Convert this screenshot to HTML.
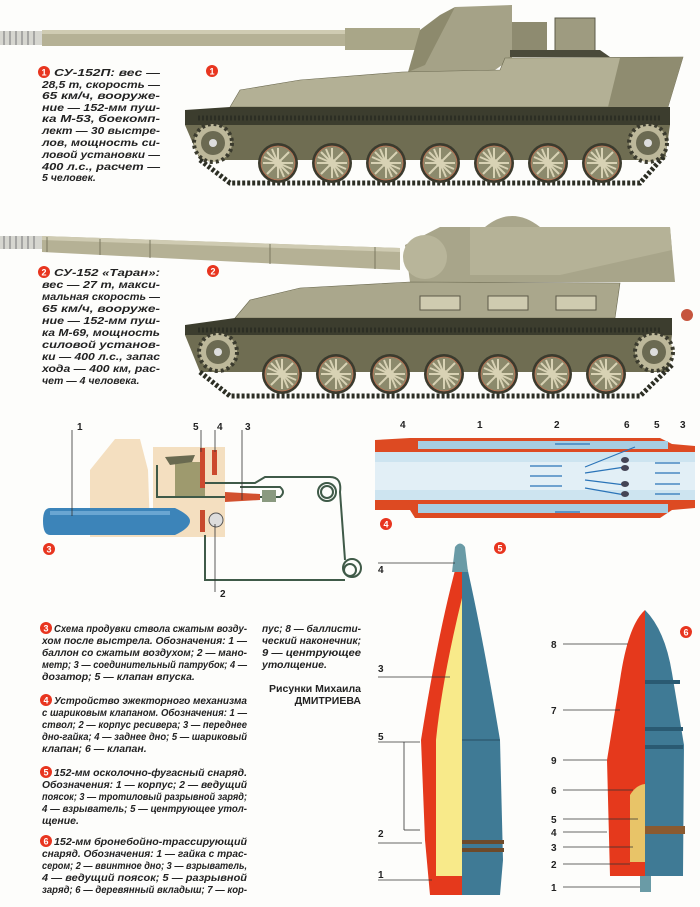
<!DOCTYPE html>
<html><head><meta charset="utf-8"><style>
html,body{margin:0;padding:0;background:#fff;}
svg{display:block}
.t{font-family:"Liberation Sans","Noto Sans CJK SC",sans-serif;font-weight:bold;font-style:italic;font-size:10.5px;fill:#222;}
.n{font-family:"Liberation Sans",sans-serif;font-weight:bold;font-size:10px;fill:#222;}
.b{fill:#e8351f}
.bt{font-family:"Liberation Sans",sans-serif;font-weight:bold;font-size:9px;fill:#fff;}
</style></head><body>
<svg width="700" height="907" viewBox="0 0 700 907" xmlns="http://www.w3.org/2000/svg">
<rect width="700" height="907" fill="#fdfdfb"/>
<defs>
<g id="wheel">
<circle r="20" fill="#3b3b2e"/><circle r="17" fill="#8c8a6c"/>
<g stroke="#d8d2b4" stroke-width="2">
<line x1="0" y1="-15" x2="0" y2="15"/><line x1="-15" y1="0" x2="15" y2="0"/>
<line x1="-11" y1="-11" x2="11" y2="11"/><line x1="-11" y1="11" x2="11" y2="-11"/>
<line x1="-6" y1="-14" x2="6" y2="14"/><line x1="-14" y1="-6" x2="14" y2="6"/>
</g><circle r="4" fill="#d8d2b4"/><circle r="17" fill="none" stroke="#c07050" stroke-width="0.8"/>
</g>
<g id="spr"><circle r="19" fill="#bdb89a" stroke="#3b3b2e" stroke-width="4" stroke-dasharray="3 3"/><circle r="12" fill="#6b6a52"/><circle r="4" fill="#ddd"/></g>
</defs>

<!-- TANK 1 -->
<rect x="0" y="31" width="42" height="14" fill="#d6d6d0"/>
<g stroke="#777" stroke-width="1"><line x1="4" y1="31" x2="4" y2="45"/><line x1="10" y1="31" x2="10" y2="45"/><line x1="16" y1="31" x2="16" y2="45"/><line x1="22" y1="31" x2="22" y2="45"/><line x1="28" y1="31" x2="28" y2="45"/><line x1="34" y1="31" x2="34" y2="45"/></g>
<rect x="42" y="30" width="305" height="16" fill="#b5b195"/>
<rect x="42" y="30" width="305" height="4" fill="#cfcbb2"/>
<rect x="345" y="28" width="75" height="22" fill="#a9a688"/>
<path d="M418,62 L455,7 L512,5 L512,58 L495,70 L408,72 Z" fill="#a5a287"/>
<path d="M408,72 L420,30 L440,15 L455,7 L425,65 Z" fill="#8d8a6d"/>
<rect x="512" y="22" width="35" height="30" fill="#8e8b70"/>
<rect x="555" y="18" width="40" height="35" fill="#9e9b80" stroke="#5c5a48"/>
<path d="M510,50 L600,50 L610,57 L510,57Z" fill="#4a4a3a"/>
<path d="M230,107 L240,90 L300,80 L402,72 L500,70 L505,58 L683,57 L668,107 Z" fill="#b3b095" stroke="#6a684f" stroke-width="0.6"/>
<path d="M620,58 L683,57 L668,107 L608,107 Z" fill="#8f8c70"/>
<path d="M185,110 L230,107 L670,107 L670,125 L185,125 Z" fill="#3c3d2e"/>
<path d="M185,125 L670,125 L665,160 L200,160 Z" fill="#6f6d52"/>
<path d="M198,118 L660,118" stroke="#2c2e24" stroke-width="5" stroke-dasharray="2 2"/>
<path d="M200,160 L230,183 L640,183 L665,155" stroke="#2c2e24" stroke-width="5" fill="none" stroke-dasharray="3 2"/>
<use href="#spr" x="213" y="143"/><use href="#spr" x="648" y="143"/>
<use href="#wheel" x="278" y="163"/><use href="#wheel" x="332" y="163"/><use href="#wheel" x="386" y="163"/><use href="#wheel" x="440" y="163"/><use href="#wheel" x="494" y="163"/><use href="#wheel" x="548" y="163"/><use href="#wheel" x="602" y="163"/>
<circle cx="212" cy="71" r="6" class="b"/><text x="212" y="74.5" text-anchor="middle" class="bt">1</text>

<!-- TANK 2 -->
<rect x="0" y="236" width="42" height="13" fill="#d6d6d0"/>
<g stroke="#777" stroke-width="1"><line x1="4" y1="236" x2="4" y2="249"/><line x1="10" y1="236" x2="10" y2="249"/><line x1="16" y1="236" x2="16" y2="249"/><line x1="22" y1="236" x2="22" y2="249"/><line x1="28" y1="236" x2="28" y2="249"/><line x1="34" y1="236" x2="34" y2="249"/></g>
<path d="M42,236 L400,248 L400,270 L42,252 Z" fill="#b5b195"/>
<path d="M42,236 L400,248 L400,252 L42,240 Z" fill="#cfcbb2"/>
<g stroke="#7a7860" stroke-width="1"><line x1="47" y1="237" x2="47" y2="252"/><line x1="100" y1="239" x2="100" y2="255"/><line x1="150" y1="240" x2="150" y2="258"/><line x1="270" y1="244" x2="270" y2="264"/><line x1="375" y1="247" x2="375" y2="269"/></g>
<path d="M405,245 L440,227 L670,227 L675,282 L410,282 Z" fill="#a8a58a"/>
<path d="M470,227 L670,227 L672,250 L560,275 L470,275Z" fill="#b5b297"/>
<circle cx="425" cy="257" r="22" fill="#b8b59a"/>
<path d="M485,227 Q512,205 540,227 Z" fill="#a9a68b"/>
<path d="M235,318 L250,300 L300,288 L410,282 L620,283 L615,318 Z" fill="#aaa78c" stroke="#6a684f" stroke-width="0.6"/>
<g fill="#cfcbb0" stroke="#5c5a48"><rect x="420" y="296" width="40" height="14"/><rect x="488" y="296" width="40" height="14"/><rect x="556" y="296" width="40" height="14"/></g>
<path d="M185,325 L235,318 L672,318 L672,335 L185,335 Z" fill="#3c3d2e"/>
<path d="M185,335 L672,335 L668,372 L200,372 Z" fill="#6f6d52"/>
<path d="M198,330 L660,330" stroke="#2c2e24" stroke-width="5" stroke-dasharray="2 2"/>
<path d="M200,372 L230,396 L640,396 L672,365" stroke="#2c2e24" stroke-width="5" fill="none" stroke-dasharray="3 2"/>
<circle cx="687" cy="315" r="6" fill="#c6553e"/>
<use href="#spr" x="218" y="352"/><use href="#spr" x="654" y="352"/>
<use href="#wheel" x="282" y="374"/><use href="#wheel" x="336" y="374"/><use href="#wheel" x="390" y="374"/><use href="#wheel" x="444" y="374"/><use href="#wheel" x="498" y="374"/><use href="#wheel" x="552" y="374"/><use href="#wheel" x="606" y="374"/>
<circle cx="213" cy="271" r="6" class="b"/><text x="213" y="274.5" text-anchor="middle" class="bt">2</text>

<!-- captions 1,2 -->
<circle cx="44" cy="72" r="6" class="b"/><text x="44" y="75.5" text-anchor="middle" class="bt">1</text>
<g class="t">
<text x="54" y="76" textLength="106" lengthAdjust="spacingAndGlyphs">СУ-152П: вес —</text>
<text x="42" y="88" textLength="118" lengthAdjust="spacingAndGlyphs">28,5 т, скорость —</text>
<text x="42" y="99" textLength="118" lengthAdjust="spacingAndGlyphs">65 км/ч, вооруже-</text>
<text x="42" y="111" textLength="118" lengthAdjust="spacingAndGlyphs">ние — 152-мм пуш-</text>
<text x="42" y="122" textLength="118" lengthAdjust="spacingAndGlyphs">ка М-53, боекомп-</text>
<text x="42" y="134" textLength="118" lengthAdjust="spacingAndGlyphs">лект — 30 выстре-</text>
<text x="42" y="146" textLength="118" lengthAdjust="spacingAndGlyphs">лов, мощность си-</text>
<text x="42" y="158" textLength="118" lengthAdjust="spacingAndGlyphs">ловой установки —</text>
<text x="42" y="170" textLength="118" lengthAdjust="spacingAndGlyphs">400 л.с., расчет —</text>
<text x="42" y="181">5 человек.</text>
</g>
<circle cx="44" cy="272" r="6" class="b"/><text x="44" y="275.5" text-anchor="middle" class="bt">2</text>
<g class="t">
<text x="54" y="276" textLength="106" lengthAdjust="spacingAndGlyphs">СУ-152 «Таран»:</text>
<text x="42" y="288" textLength="118" lengthAdjust="spacingAndGlyphs">вес — 27 т, макси-</text>
<text x="42" y="300" textLength="118" lengthAdjust="spacingAndGlyphs">мальная скорость —</text>
<text x="42" y="312" textLength="118" lengthAdjust="spacingAndGlyphs">65 км/ч, вооруже-</text>
<text x="42" y="324" textLength="118" lengthAdjust="spacingAndGlyphs">ние — 152-мм пуш-</text>
<text x="42" y="336" textLength="118" lengthAdjust="spacingAndGlyphs">ка М-69, мощность</text>
<text x="42" y="348" textLength="118" lengthAdjust="spacingAndGlyphs">силовой установ-</text>
<text x="42" y="360" textLength="118" lengthAdjust="spacingAndGlyphs">ки — 400 л.с., запас</text>
<text x="42" y="372" textLength="118" lengthAdjust="spacingAndGlyphs">хода — 400 км, рас-</text>
<text x="42" y="384">чет — 4 человека.</text>
</g>

<!-- DIAGRAM 3 -->
<path d="M90,470 L115,439 L140,439 L148,470 L150,530 L225,530 L225,537 L90,537 Z" fill="#f4dfc0"/>
<rect x="153" y="447" width="72" height="90" fill="#f4dfc0"/>
<rect x="175" y="462" width="30" height="35" fill="#9e9a6e"/>
<path d="M165,457 L195,455 L192,462 L170,465Z" fill="#6a6a50"/>
<g fill="none" stroke="#3f5a48" stroke-width="2">
<path d="M157,465 L157,497 L225,497"/>
<path d="M203,485 L203,483 L255,483 L265,477 L330,477 Q342,477 340,492 L345,560"/>
<path d="M225,497 L280,497 Q286,492 280,487 L240,487"/>
<path d="M205,535 L205,580 L345,580"/>
<circle cx="327" cy="492" r="9"/><circle cx="327" cy="492" r="6"/>
<circle cx="352" cy="568" r="9"/><circle cx="350" cy="570" r="6"/>
</g>
<rect x="200" y="448" width="5" height="40" fill="#cc4a2e"/>
<rect x="212" y="450" width="5" height="25" fill="#cc4a2e"/>
<path d="M225,492 L260,494 L260,500 L225,502Z" fill="#d2512f"/>
<rect x="262" y="490" width="14" height="12" fill="#8a9a80"/>
<path d="M50,508 L175,508 Q190,515 190,521 Q190,528 175,535 L50,535 Q43,535 43,521 Q43,508 50,508Z" fill="#3c84b9"/>
<rect x="50" y="511" width="120" height="4" fill="#6aa6d2"/>
<rect x="200" y="510" width="5" height="22" fill="#c84a2e"/>
<circle cx="216" cy="520" r="7" fill="#ddd" stroke="#555"/>
<g stroke="#333" stroke-width="0.8"><line x1="72" y1="430" x2="72" y2="516"/><line x1="201" y1="430" x2="201" y2="452"/><line x1="215" y1="430" x2="215" y2="452"/><line x1="242" y1="430" x2="242" y2="500"/><line x1="215" y1="524" x2="215" y2="592"/></g>
<text x="77" y="430" class="n">1</text><text x="193" y="430" class="n">5</text><text x="217" y="430" class="n">4</text><text x="245" y="430" class="n">3</text><text x="220" y="597" class="n">2</text>
<circle cx="49" cy="549" r="6" class="b"/><text x="49" y="552.5" text-anchor="middle" class="bt">3</text>

<!-- DIAGRAM 4 -->
<rect x="375" y="452" width="320" height="48" fill="#cde4f0"/>
<rect x="375" y="462" width="320" height="28" fill="#e2eff6"/>
<path d="M410,438 L660,438 L672,444 L695,446 L695,452 L375,452 L375,440 Z" fill="#dd4a22"/>
<rect x="418" y="441" width="250" height="8" fill="#a7cde2"/>
<path d="M375,500 L695,500 L695,508 L672,510 L660,518 L415,518 L410,510 L375,510 Z" fill="#dd4a22"/>
<rect x="418" y="504" width="250" height="9" fill="#a7cde2"/>
<g stroke="#2b74b8" stroke-width="1.2">
<line x1="530" y1="466" x2="562" y2="466"/><line x1="530" y1="476" x2="562" y2="476"/><line x1="530" y1="486" x2="562" y2="486"/>
<line x1="655" y1="463" x2="680" y2="463"/><line x1="655" y1="473" x2="680" y2="473"/><line x1="655" y1="484" x2="680" y2="484"/><line x1="655" y1="494" x2="680" y2="494"/>
<path d="M585,467 L635,447" fill="none"/><path d="M585,473 L625,467" fill="none"/><path d="M585,480 L625,485" fill="none"/><path d="M585,488 L625,495" fill="none"/>
<line x1="555" y1="444" x2="590" y2="444"/><line x1="555" y1="512" x2="580" y2="512"/>
</g>
<g fill="#445"><ellipse cx="625" cy="460" rx="4" ry="3"/><ellipse cx="625" cy="468" rx="4" ry="3"/><ellipse cx="625" cy="484" rx="4" ry="3"/><ellipse cx="625" cy="494" rx="4" ry="3"/></g>
<text x="400" y="428" class="n">4</text><text x="477" y="428" class="n">1</text><text x="554" y="428" class="n">2</text><text x="624" y="428" class="n">6</text><text x="654" y="428" class="n">5</text><text x="680" y="428" class="n">3</text>
<circle cx="386" cy="524" r="6" class="b"/><text x="386" y="527.5" text-anchor="middle" class="bt">4</text>

<!-- SHELL 5 -->
<path d="M462,545 Q480,620 500,740 L503,860 L500,895 L462,895 Z" fill="#3f7a95"/>
<path d="M462,545 Q440,620 421,740 L425,840 L430,895 L462,895 Z" fill="#e5391c"/>
<path d="M462,598 Q442,680 436,740 L436,876 L462,876 Z" fill="#f8ea8a"/>
<path d="M455,547 Q460,540 465,547 L468,572 L452,572Z" fill="#6a9ba6"/>
<g fill="#6d4a2a"><rect x="462" y="840" width="42" height="4"/><rect x="462" y="848" width="42" height="4"/></g>
<line x1="462" y1="740" x2="500" y2="740" stroke="#274e62"/>
<g stroke="#333" stroke-width="0.8"><line x1="378" y1="563" x2="455" y2="563"/><line x1="378" y1="677" x2="450" y2="677"/><line x1="378" y1="742" x2="420" y2="742"/><line x1="404" y1="742" x2="404" y2="830"/><line x1="404" y1="830" x2="420" y2="830"/><line x1="378" y1="843" x2="422" y2="843"/><line x1="378" y1="880" x2="432" y2="880"/></g>
<text x="378" y="573" class="n">4</text><text x="378" y="672" class="n">3</text><text x="378" y="740" class="n">5</text><text x="378" y="837" class="n">2</text><text x="378" y="878" class="n">1</text>
<circle cx="500" cy="548" r="6" class="b"/><text x="500" y="551.5" text-anchor="middle" class="bt">5</text>

<!-- SHELL 6 -->
<path d="M645,610 Q665,630 672,673 L684,745 L683,876 L645,876 Z" fill="#3f7a95"/>
<path d="M645,610 Q628,625 620,680 L607,760 L610,876 L645,876 Z" fill="#e5391c"/>
<g fill="#2a5a72"><rect x="645" y="680" width="35" height="4"/><rect x="645" y="727" width="38" height="4"/><rect x="645" y="745" width="38" height="4"/></g>
<rect x="645" y="826" width="40" height="8" fill="#8a5a30"/>
<path d="M630,795 Q636,785 645,784 L645,862 L630,862Z" fill="#e8c468"/>
<rect x="640" y="876" width="11" height="16" fill="#6a9ba6"/>
<g stroke="#333" stroke-width="0.8"><line x1="563" y1="644" x2="628" y2="644"/><line x1="563" y1="710" x2="620" y2="710"/><line x1="563" y1="760" x2="607" y2="760"/><line x1="563" y1="790" x2="633" y2="790"/><line x1="563" y1="819" x2="638" y2="819"/><line x1="563" y1="832" x2="607" y2="832"/><line x1="563" y1="847" x2="633" y2="847"/><line x1="563" y1="864" x2="630" y2="864"/><line x1="563" y1="887" x2="640" y2="887"/></g>
<g class="n"><text x="551" y="648">8</text><text x="551" y="714">7</text><text x="551" y="764">9</text><text x="551" y="794">6</text><text x="551" y="823">5</text><text x="551" y="836">4</text><text x="551" y="851">3</text><text x="551" y="868">2</text><text x="551" y="891">1</text></g>
<circle cx="686" cy="632" r="6" class="b"/><text x="686" y="635.5" text-anchor="middle" class="bt">6</text>

<!-- bottom captions -->
<g class="t">
<text x="54" y="632" textLength="193" lengthAdjust="spacingAndGlyphs">Схема продувки ствола сжатым возду-</text>
<text x="42" y="644" textLength="205" lengthAdjust="spacingAndGlyphs">хом после выстрела. Обозначения: 1 —</text>
<text x="42" y="656" textLength="205" lengthAdjust="spacingAndGlyphs">баллон со сжатым воздухом; 2 — мано-</text>
<text x="42" y="668" textLength="205" lengthAdjust="spacingAndGlyphs">метр; 3 — соединительный патрубок; 4 —</text>
<text x="42" y="680">дозатор; 5 — клапан впуска.</text>
<text x="54" y="704" textLength="193" lengthAdjust="spacingAndGlyphs">Устройство эжекторного механизма</text>
<text x="42" y="716" textLength="205" lengthAdjust="spacingAndGlyphs">с шариковым клапаном. Обозначения: 1 —</text>
<text x="42" y="728" textLength="205" lengthAdjust="spacingAndGlyphs">ствол; 2 — корпус ресивера; 3 — переднее</text>
<text x="42" y="740" textLength="205" lengthAdjust="spacingAndGlyphs">дно-гайка; 4 — заднее дно; 5 — шариковый</text>
<text x="42" y="752">клапан; 6 — клапан.</text>
<text x="54" y="776" textLength="193" lengthAdjust="spacingAndGlyphs">152-мм осколочно-фугасный снаряд.</text>
<text x="42" y="788" textLength="205" lengthAdjust="spacingAndGlyphs">Обозначения: 1 — корпус; 2 — ведущий</text>
<text x="42" y="800" textLength="205" lengthAdjust="spacingAndGlyphs">поясок; 3 — тротиловый разрывной заряд;</text>
<text x="42" y="812" textLength="205" lengthAdjust="spacingAndGlyphs">4 — взрыватель; 5 — центрующее утол-</text>
<text x="42" y="824">щение.</text>
<text x="54" y="845" textLength="193" lengthAdjust="spacingAndGlyphs">152-мм бронебойно-трассирующий</text>
<text x="42" y="857" textLength="205" lengthAdjust="spacingAndGlyphs">снаряд. Обозначения: 1 — гайка с трас-</text>
<text x="42" y="869" textLength="205" lengthAdjust="spacingAndGlyphs">сером; 2 — ввинтное дно; 3 — взрыватель,</text>
<text x="42" y="881" textLength="205" lengthAdjust="spacingAndGlyphs">4 — ведущий поясок; 5 — разрывной</text>
<text x="42" y="893" textLength="205" lengthAdjust="spacingAndGlyphs">заряд; 6 — деревянный вкладыш; 7 — кор-</text>
<text x="262" y="632" textLength="99" lengthAdjust="spacingAndGlyphs">пус; 8 — баллисти-</text>
<text x="262" y="644" textLength="99" lengthAdjust="spacingAndGlyphs">ческий наконечник;</text>
<text x="262" y="656" textLength="99" lengthAdjust="spacingAndGlyphs">9 — центрующее</text>
<text x="262" y="668">утолщение.</text>
<text x="361" y="692" text-anchor="end" style="font-style:normal">Рисунки Михаила</text>
<text x="361" y="704" text-anchor="end" style="font-style:normal">ДМИТРИЕВА</text>
</g>
<g class="b">
<circle cx="46" cy="628" r="6"/><circle cx="46" cy="700" r="6"/><circle cx="46" cy="772" r="6"/><circle cx="46" cy="841" r="6"/>
</g>
<g class="bt" text-anchor="middle"><text x="46" y="631.5">3</text><text x="46" y="703.5">4</text><text x="46" y="775.5">5</text><text x="46" y="844.5">6</text></g>
</svg>
</body></html>
